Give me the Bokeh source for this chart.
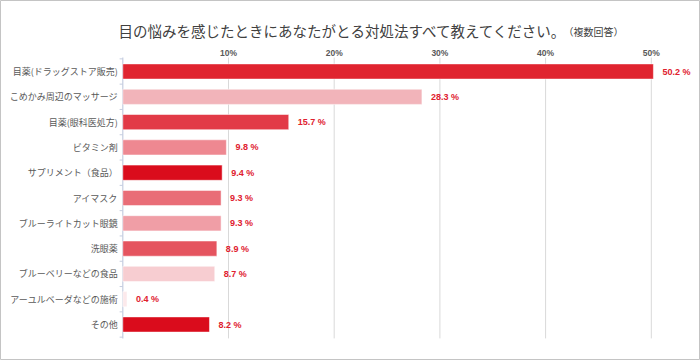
from bokeh.plotting import figure
from bokeh.models import ColumnDataSource, Range1d
from bokeh.core.properties import value
from bokeh.embed import file_html
from bokeh.resources import INLINE

categories = ["目薬(ドラッグストア販売)", "こめかみ周辺のマッサージ", "目薬(眼科医処方)", "ビタミン剤",
              "サプリメント（食品）", "アイマスク", "ブルーライトカット眼鏡", "洗眼薬",
              "ブルーベリーなどの食品", "アーユルベーダなどの施術", "その他"]
values = [50.2, 28.3, 15.7, 9.8, 9.4, 9.3, 9.3, 8.9, 8.7, 0.4, 8.2]
colors = ["#E0242F", "#F2B4BA", "#E23A47", "#EE8891", "#DA0C1C", "#E96D77",
          "#F09EA6", "#E5545F", "#F7CDD1", "#FCE9EB", "#DA0C1C"]
ticks = [10, 20, 30, 40, 50]
tick_labels = ["10%", "20%", "30%", "40%", "50%"]
title_main = "目の悩みを感じたときにあなたがとる対処法すべて教えてください。"
title_sub = "（複数回答）"

W, H = 700, 360
# layout: pixel position of 0%, pixels per 1%, pixel centre of first row, pixels per row
X0, XS = 122.3, 10.57
Y0, YS = 71.0, 25.3

n = len(categories)
idx = list(range(n))
labels = [f"{v} %" for v in values]
src = ColumnDataSource(dict(y=idx, val=values, col=colors, lab=labels, cat=categories,
                            zero=[0] * n))

p = figure(width=W, height=H, output_backend="svg", toolbar_location=None,
           x_range=Range1d(-X0 / XS, (W - X0) / XS),
           y_range=Range1d((H - Y0) / YS, -Y0 / YS),
           min_border=0)
p.axis.visible = False
p.grid.visible = False
p.outline_line_color = "#C4C4C4"
p.outline_line_width = 1
p.background_fill_color = "white"
p.border_fill_color = "white"

pad = 0.05
top, bot = -0.5 - pad, n - 0.5 + pad

# vertical grid lines
p.segment(x0=ticks, x1=ticks, y0=[top] * len(ticks), y1=[bot] * len(ticks),
          line_color="#D9D9D9", line_width=1)
# left axis line and boundary ticks
p.segment(x0=[0], x1=[0], y0=[top], y1=[bot], line_color="#C5CDE0", line_width=1.2)
bounds = [i + 0.5 for i in range(-1, n)]
p.segment(x0=[0] * len(bounds), x1=[-0.3] * len(bounds), y0=bounds, y1=bounds,
          line_color="#C5CDE0", line_width=1)

# bars
p.hbar(y="y", right="val", left=0, height=0.6, fill_color="col",
       line_color="white", line_alpha=0.5, line_width=1, source=src)
# value labels
p.text(x="val", y="y", text="lab", x_offset=9, text_baseline="middle", text_align="left",
       text_color="#E0202E", text_font=value("Liberation Sans"), text_font_style="bold",
       text_font_size="9px", source=src)
# category labels
p.text(x="zero", y="y", text="cat", x_offset=-5, text_baseline="middle", text_align="right",
       text_color="#595959", text_font=value("Noto Sans CJK JP"), text_font_size="9px",
       source=src)
# tick labels on top
p.text(x=ticks, y=[top - 0.2] * len(ticks), text=tick_labels, text_baseline="middle",
       text_align="center", text_color="#595959", text_font=value("Liberation Sans"),
       text_font_style="bold", text_font_size="8.5px")

# titles
p.text(x=[(118 - X0) / XS], y=[(29.5 - Y0) / YS], text=[title_main], text_baseline="middle",
       text_align="left", text_color="#404040", text_font=value("Noto Sans CJK JP"),
       text_font_size="14.5px")
p.text(x=[(563 - X0) / XS], y=[(31 - Y0) / YS], text=[title_sub], text_baseline="middle",
       text_align="left", text_color="#404040", text_font=value("Noto Sans CJK JP"),
       text_font_size="10px")

open("out.html", "w").write(file_html(p, INLINE))
